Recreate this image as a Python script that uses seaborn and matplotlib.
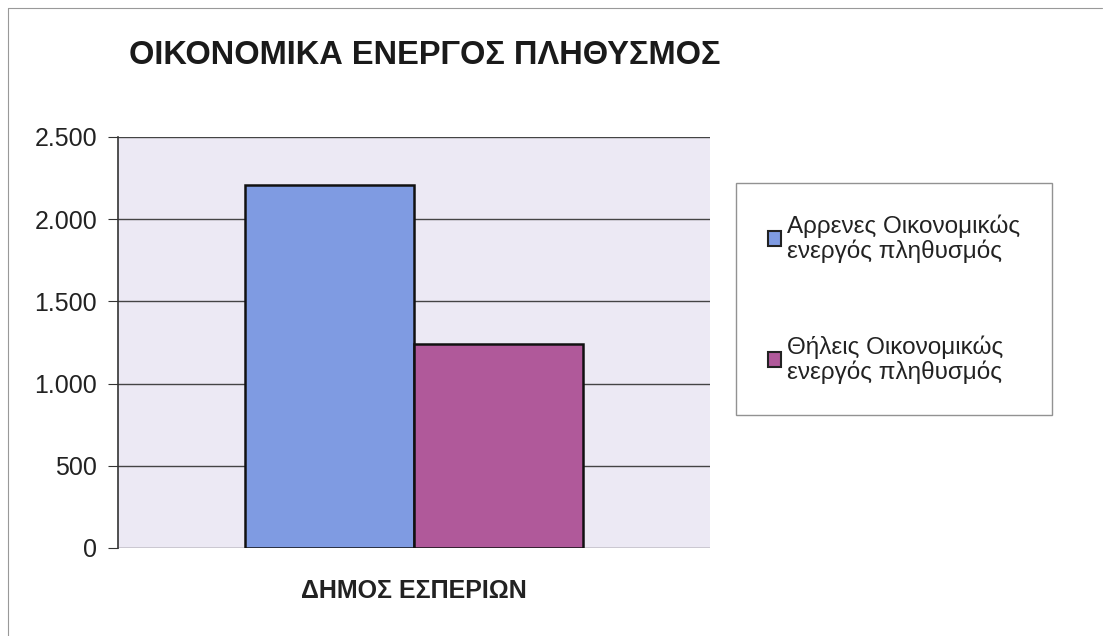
import matplotlib.pyplot as plt
import matplotlib.ticker as mticker
from matplotlib.patches import Patch
from matplotlib.lines import Line2D
import pandas as pd
import seaborn as sns

# data
categories = ['ΔΗΜΟΣ ΕΣΠΕΡΙΩΝ', 'ΔΗΜΟΣ ΕΣΠΕΡΙΩΝ']
series = ['Αρρενες Οικονομικώς\nενεργός πληθυσμός', 'Θήλεις Οικονομικώς\nενεργός πληθυσμός']
values = [2205, 1240]
colors = ['#7f9be2', '#b0599a']

df = pd.DataFrame({'place': categories, 'group': series, 'value': values})

sns.set_style('white')
plt.rcParams['font.family'] = ['Liberation Sans', 'DejaVu Sans']

fig = plt.figure(figsize=(11.05, 6.36), dpi=100)
ax = fig.add_axes([0.1068, 0.1384, 0.5357, 0.6462])
ax.set_facecolor('#ece9f4')

sns.barplot(data=df, x='place', y='value', hue='group', palette=colors,
            width=0.57, edgecolor='#111111', linewidth=1.8, saturation=1,
            ax=ax, legend=False)

ax.set_ylim(0, 2500)
ax.set_yticks([0, 500, 1000, 1500, 2000, 2500])
ax.yaxis.set_major_formatter(mticker.FuncFormatter(lambda v, p: f'{int(v):,}'.replace(',', '.')))
ax.grid(axis='y', color='#444444', linewidth=1)
ax.set_axisbelow(True)
for s in ['top', 'right', 'bottom']:
    ax.spines[s].set_visible(False)
ax.spines['left'].set_color('#333333')
ax.spines['left'].set_linewidth(1.2)
ax.tick_params(axis='y', left=True, length=7, color='#333333', labelsize=18,
               pad=8, labelcolor='#222222')
ax.tick_params(axis='x', length=0, labelsize=18, pad=22, labelcolor='#222222')
for t in ax.get_xticklabels():
    t.set_fontweight('bold')
ax.set_xlabel('')
ax.set_ylabel('')

fig.text(0.117, 0.912, 'ΟΙΚΟΝΟΜΙΚΑ ΕΝΕΡΓΟΣ ΠΛΗΘΥΣΜΟΣ', fontsize=23.5,
         fontweight='bold', va='center', ha='left', color='#1a1a1a')

# legend
handles = [Patch(facecolor=c, edgecolor='#222222', linewidth=1.5) for c in colors]
leg = fig.legend(handles, series, loc='upper left', bbox_to_anchor=(0.666, 0.712),
                 fontsize=17.5, frameon=True, fancybox=False, handlelength=0.55,
                 handleheight=0.55, handletextpad=0.25, labelspacing=3.0,
                 borderpad=1.3, borderaxespad=0)
leg.get_frame().set_edgecolor('#777777')
leg.get_frame().set_linewidth(1)
for t in leg.get_texts():
    t.set_linespacing(1.05)
    t.set_color('#222222')

# thin outer border (left and top edges visible in the scan)
fig.add_artist(Line2D([0.007, 0.007], [0.0, 0.987], transform=fig.transFigure,
                      color='#999999', linewidth=0.8))
fig.add_artist(Line2D([0.007, 0.997], [0.987, 0.987], transform=fig.transFigure,
                      color='#999999', linewidth=0.8))

fig.savefig('out.png', dpi=100, facecolor='white')
